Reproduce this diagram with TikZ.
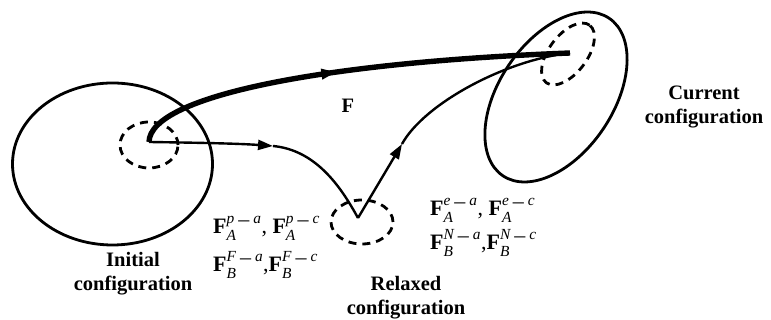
\documentclass[tikz,border=0pt]{standalone}
\usepackage{amsmath}
\usepackage{fontspec}
\setmainfont{Liberation Serif}
\usetikzlibrary{arrows.meta,decorations.markings}
\newcommand\Flab[3]{\textbf{F}$^{\textit{#1}\;\raisebox{-0.3ex}{–}\;\textit{#2}}_{\textit{#3}}$}
\tikzset{
  outline/.style={line width=2.8pt},
  dashring/.style={line width=2.8pt, dash pattern=on 8pt off 6pt},
  thinpath/.style={line width=2.4pt},
  thickpath/.style={line width=5.4pt},
  tip/.style={-{Triangle[length=15pt,width=10pt]}},
  conflabel/.style={font=\fontsize{20.5}{24}\selectfont\bfseries, align=center},
  mathlabel/.style={font=\fontsize{22}{27}\selectfont, anchor=base west, inner sep=0pt},
}
\begin{document}
\begin{tikzpicture}[x=1pt,y=1pt]
\useasboundingbox (0,0) rectangle (771,320);
% configurations
\draw[outline] (112.5,156) ellipse [x radius=100, y radius=81];
\draw[dashring] (149,175) ellipse [x radius=29, y radius=23];
\draw[dashring] (362,98) ellipse [x radius=31, y radius=22];
\draw[outline, rotate around={56:(556,223)}] (556,223) ellipse [x radius=95, y radius=57];
\draw[dashring, rotate around={53:(568,266)}] (568,266) ellipse [x radius=36, y radius=19];
% points
\coordinate (O) at (149,178);
\coordinate (E) at (570,267);
\coordinate (A1) at (273,174);
\coordinate (C) at (358,102);
\coordinate (B1) at (402,176);
% thick path F
\draw[thickpath, decoration={markings, mark=at position 0.47 with {\arrow{Triangle[length=15pt,width=10pt]}}}, postaction={decorate}]
  (O) .. controls (150,225) and (330,258) .. (E);
% thin path through relaxed configuration
\draw[thinpath, tip] (O) .. controls (220,177) and (245,176) .. (A1);
\draw[thinpath] (A1) .. controls (315,170) and (340,135) .. (C);
\draw[thinpath, tip] (C) -- (B1);
\draw[thinpath] (B1) .. controls (424,216) and (505,260) .. (E);
% labels
\node[font=\fontsize{20.5}{24}\selectfont\bfseries] (Flab) at (348,214) {F};
\node[conflabel] (cur) at (704,213) {Current\\configuration};
\node[conflabel] (ini) at (133,46) {Initial\\configuration};
\node[conflabel, anchor=south, inner sep=0pt] (rel) at (406,0.5) {Relaxed\\configuration};
\node[mathlabel] (m1) at (213,86) {\Flab{p}{a}{A}, \Flab{p}{c}{A}};
\node[mathlabel] (m2) at (213,48) {\Flab{F}{a}{B},\Flab{F}{c}{B}};
\node[mathlabel] (m3) at (430,104) {\Flab{e}{a}{A}, \Flab{e}{c}{A}};
\node[mathlabel] (m4) at (430,70) {\Flab{N}{a}{B},\Flab{N}{c}{B}};
\end{tikzpicture}
\end{document}
